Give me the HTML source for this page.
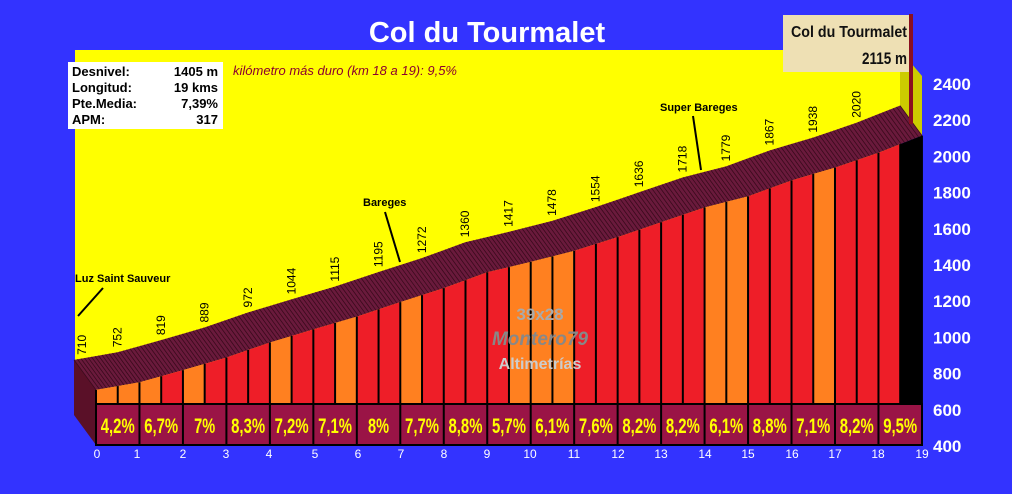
<!DOCTYPE html>
<html><head><meta charset="utf-8">
<style>
html,body{margin:0;padding:0;background:#3333ff;}
svg{display:block;}
text{font-family:"Liberation Sans",sans-serif;}
</style></head>
<body>
<svg id="s" width="1012" height="494" xmlns="http://www.w3.org/2000/svg">
<rect width="1012" height="494" fill="#3333ff"/>
<rect x="75" y="50" width="826" height="360" fill="#ffff00"/>
<polygon points="900,50 922,76 922,140 900,112" fill="#cccc00"/>
<g id="g"></g>
<text x="487" y="42" text-anchor="middle" font-size="29" font-weight="bold" fill="#fff">Col du Tourmalet</text>
<rect x="68" y="62" width="155" height="67" fill="#fff"/>
<g font-size="13" font-weight="bold" fill="#000">
<text x="72" y="76">Desnivel:</text><text x="218" y="76" text-anchor="end">1405 m</text>
<text x="72" y="92">Longitud:</text><text x="218" y="92" text-anchor="end">19 kms</text>
<text x="72" y="108">Pte.Media:</text><text x="218" y="108" text-anchor="end">7,39%</text>
<text x="72" y="124">APM:</text><text x="218" y="124" text-anchor="end">317</text>
</g>
<text x="233" y="75" font-size="13" font-style="italic" fill="#8b0030">kilómetro más duro (km 18 a 19):  9,5%</text>
<rect x="783" y="15" width="127" height="57" fill="#eee0b4"/>
<text x="791" y="37" font-size="16" font-weight="bold" fill="#111" textLength="116" lengthAdjust="spacingAndGlyphs">Col du Tourmalet</text>
<text x="862" y="64" font-size="17" font-weight="bold" fill="#111" textLength="45" lengthAdjust="spacingAndGlyphs">2115 m</text>
<rect x="909" y="14" width="4" height="110" fill="#8a1020"/>
<g font-size="11" font-weight="bold" fill="#000">
<text x="75" y="282">Luz Saint Sauveur</text>
<text x="363" y="206">Bareges</text>
<text x="660" y="111">Super Bareges</text>
</g>
<g stroke="#000" stroke-width="2">
<line x1="103" y1="288" x2="78" y2="316"/>
<line x1="385" y1="212" x2="400" y2="262"/>
<line x1="693" y1="116" x2="701" y2="170"/>
</g>
<g font-weight="bold" text-anchor="middle">
<text x="540" y="320" font-size="17" fill="#aaaaaa">39x28</text>
<text x="540" y="345" font-size="19" font-style="italic" fill="#888888">Montero79</text>
<text x="540" y="369" font-size="16" fill="#cccccc">Altimetrías</text>
</g>
</svg>
<script>
var E=[710,752,819,889,972,1044,1115,1195,1272,1360,1417,1478,1554,1636,1718,1779,1867,1938,2020,2115];
var P=["4,2%","6,7%","7%","8,3%","7,2%","7,1%","8%","7,7%","8,8%","5,7%","6,1%","7,6%","8,2%","8,2%","6,1%","8,8%","7,1%","8,2%","9,5%"];
var cols={O:"#ff8020",R:"#ee1e28",K:"#000"};
var half="OO"+"OR"+"OR"+"RR"+"OR"+"RO"+"RR"+"OR"+"RR"+"RO"+"OO"+"RR"+"RR"+"RR"+"OO"+"RR"+"RO"+"RR"+"RK";
var W=43.47,X0=96,DX=-22,DY=-30;
function X(k){return X0+W*k;}
function Y(e){return 446-(e-400)*0.181;}
function el(k){var i=Math.floor(k);if(i>=19)return E[19];return E[i]+(E[i+1]-E[i])*(k-i);}
var h="";
h+='<polygon points="74,'+(Y(710)+DY)+' 96,'+Y(710)+' 96,445 74,415" fill="#5a1028"/>';
var f=[],b=[];
for(var k=0;k<=19;k+=0.5){f.push(X(k)+","+Y(el(k)));b.push((X(k)+DX)+","+(Y(el(k))+DY));}
h+='<polygon points="'+f.join(" ")+" "+b.reverse().join(" ")+'" fill="#6a1a3c"/>';
for(var x=0;x<=826;x+=3.5){var k=x/W;var fx=X(k),fy=Y(el(k));
h+='<line x1="'+fx+'" y1="'+fy+'" x2="'+(fx+DX)+'" y2="'+(fy+DY)+'" stroke="#3a0a1c" stroke-width="0.8"/>';}
for(var i=0;i<38;i++){var k0=i/2,k1=(i+1)/2;
h+='<polygon points="'+X(k0)+','+Y(el(k0))+' '+X(k1)+','+Y(el(k1))+' '+X(k1)+',405 '+X(k0)+',405" fill="'+cols[half[i]]+'"/>';}
for(var i=0;i<=38;i++){var k=i/2;
h+='<line x1="'+X(k)+'" y1="'+Y(el(k))+'" x2="'+X(k)+'" y2="405" stroke="#000" stroke-width="2"/>';}
h+='<rect x="96" y="404" width="826" height="41" fill="#9a1446" stroke="#000" stroke-width="2"/>';
for(var k=0;k<19;k++){
h+='<line x1="'+X(k)+'" y1="404" x2="'+X(k)+'" y2="445" stroke="#000" stroke-width="2"/>';
var tl=P[k].length==2?21:P[k].length*8.5;
h+='<text x="'+(X(k)+W/2)+'" y="433" text-anchor="middle" font-size="21" font-weight="bold" fill="#ffff00" textLength="'+tl+'" lengthAdjust="spacingAndGlyphs">'+P[k]+'</text>';}
for(var k=0;k<19;k++){var lx=k==0?86:X(k)+DX+4,ly=Y(E[k])+DY-5;
h+='<text transform="translate('+lx+','+ly+') rotate(-90)" font-size="12" fill="#000">'+E[k]+'</text>';}
var xl=[97,137,183,226,269,315,358,401,444,487,530,574,618,661,705,748,792,835,878,922];
for(var k=0;k<=19;k++)h+='<text x="'+xl[k]+'" y="458" text-anchor="middle" font-size="12" fill="#fff">'+k+'</text>';
for(var v=400;v<=2400;v+=200)h+='<text x="933" y="'+(Y(v)+6)+'" font-size="17" font-weight="bold" fill="#fff">'+v+'</text>';
document.getElementById("g").innerHTML=h;
</script>
</body></html>
